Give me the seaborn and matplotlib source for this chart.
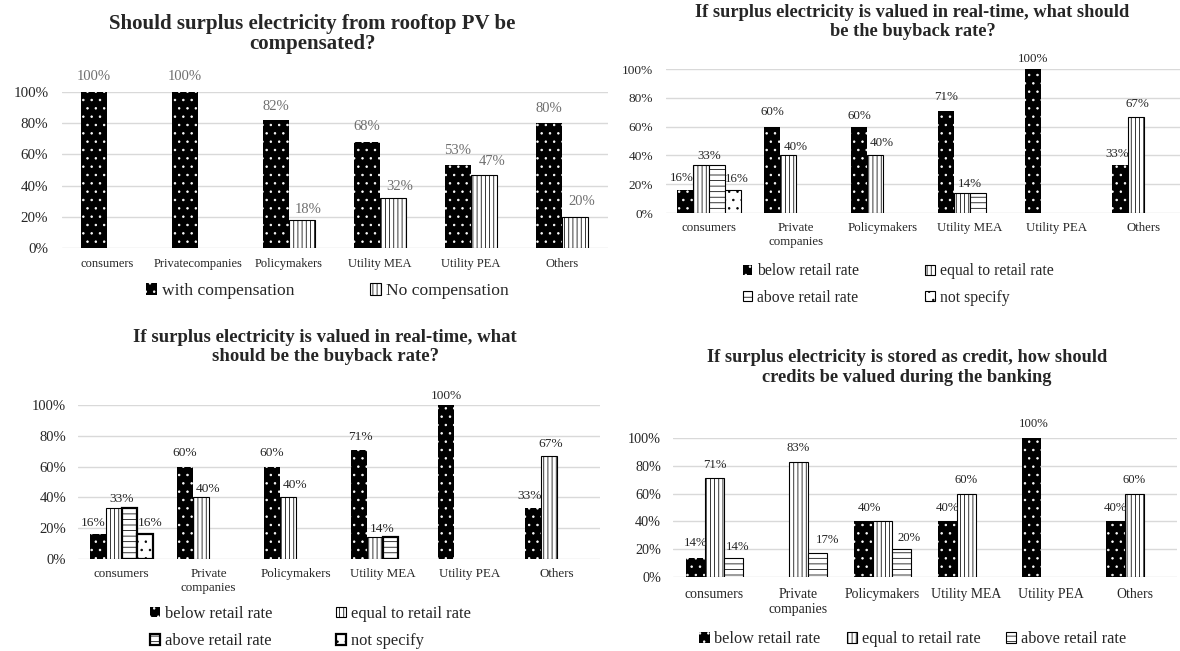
import numpy as np
import pandas as pd
import matplotlib
matplotlib.use("Agg")
import matplotlib.pyplot as plt
import seaborn as sns

# ---- survey results (percent of respondents) ----
groups_a = ["consumers", "Privatecompanies", "Policymakers", "Utility MEA", "Utility PEA", "Others"]
groups = ["consumers", "Private\ncompanies", "Policymakers", "Utility MEA", "Utility PEA", "Others"]

comp_series = ["with compensation", "No compensation"]
with_compensation = [100, 100, 82, 68, 53, 80]
no_compensation = [0, 0, 18, 32, 47, 20]

rate_series = ["below retail rate", "equal to retail rate", "above retail rate", "not specify"]
rt_below = [16, 60, 60, 71, 100, 33]
rt_equal = [33, 40, 40, 14, 0, 67]
rt_above = [33, 0, 0, 14, 0, 0]
rt_not_specified = [16, 0, 0, 0, 0, 0]

credit_series = ["below retail rate", "equal to retail rate", "above retail rate"]
cr_below = [14, 0, 40, 40, 100, 40]
cr_equal = [71, 83, 40, 60, 0, 60]
cr_above = [14, 17, 20, 0, 0, 0]

y_ticks = [0, 20, 40, 60, 80, 100]
y_tick_labels = ["0%", "20%", "40%", "60%", "80%", "100%"]

title_a = "Should surplus electricity from rooftop PV be\ncompensated?"
title_b = "If surplus electricity is valued in real-time, what should\nbe the buyback rate?"
title_c = "If surplus electricity is valued in real-time, what\nshould be the buyback rate?"
title_d = "If surplus electricity is stored as credit, how should\ncredits be valued during the banking"

# value labels: (series index, group index, sideways shift in bar widths, lift in px)
labels_a = [(0, 0, 0, 15), (0, 1, 0, 15), (0, 2, 0, 14), (1, 2, 0.25, 10),
            (0, 3, 0, 15), (1, 3, 0.25, 12), (0, 4, 0, 15), (1, 4, 0.3, 13),
            (0, 5, 0, 15), (1, 5, 0.25, 15)]
labels_b = [(0, 0, -0.2, 12), (1, 0, 0.5, 9.5), (3, 0, 0.25, 11),
            (0, 1, 0, 14.5), (1, 1, 0.5, 8.5), (0, 2, 0, 10.5), (1, 2, 0.4, 12),
            (0, 3, 0, 14), (1, 3, 0.5, 9), (0, 4, 0, 10),
            (0, 5, -0.2, 11.5), (1, 5, 0.1, 12.5)]
labels_c = [(0, 0, -0.3, 11), (1, 0, 0.5, 9), (3, 0, 0.3, 11),
            (0, 1, 0, 14), (1, 1, 0.5, 8), (0, 2, 0, 14), (1, 2, 0.5, 12),
            (0, 3, 0.1, 13), (1, 3, 0.5, 8), (0, 4, 0, 9),
            (0, 5, -0.2, 12), (1, 5, 0.1, 12)]
labels_d = [(0, 0, 0, 14.5), (1, 0, 0, 13), (2, 0, 0.2, 10.5),
            (1, 1, 0, 14), (2, 1, 0.5, 13), (0, 2, 0.3, 13), (2, 2, 0.4, 11),
            (0, 3, 0, 13), (1, 3, 0, 14), (0, 4, 0.1, 14),
            (0, 5, 0, 13), (1, 5, 0, 14)]

sns.set_style("white")
plt.rcParams["font.family"] = ["Liberation Serif", "DejaVu Serif"]
plt.rcParams["hatch.linewidth"] = 0.55

W, H = 1180, 651
fig = plt.figure(figsize=(W / 100, H / 100), dpi=100)
fig.patch.set_facecolor("white")


def frame(left, right, top, bottom):
    return fig.add_axes([left / W, 1 - bottom / H, (right - left) / W, (bottom - top) / H])


def fill_style(kind, lw=0.8):
    if kind == "black":
        return dict(facecolor="black", edgecolor="white", hatch="..", linewidth=0)
    if kind == "vert":
        return dict(facecolor="white", edgecolor="black", hatch="||||", linewidth=lw)
    if kind == "horiz":
        return dict(facecolor="white", edgecolor="black", hatch="---", linewidth=lw)
    return dict(facecolor="white", edgecolor="black", hatch="..", linewidth=lw)


def chart(ax, cats, names, series_vals, fills, width, label_spec, label_color,
          label_fs, tick_fs, cat_fs, ypad, xpad):
    df = pd.DataFrame({
        "group": np.tile(cats, len(names)),
        "series": np.repeat(names, len(cats)),
        "share": np.concatenate([np.asarray(v, float) for v in series_vals]),
    })
    sns.barplot(data=df, x="group", y="share", hue="series", order=cats,
                hue_order=names, palette=["white"] * len(names), saturation=1,
                width=width, errorbar=None, legend=False, ax=ax)
    for cont, st in zip(ax.containers, fills):
        for p in cont:
            p.set(**st)
            if p.get_height() == 0:
                p.set_visible(False)
    ax.set_ylim(0, 100)
    ax.set_yticks(y_ticks)
    ax.set_yticklabels(y_tick_labels)
    ax.set_xlabel("")
    ax.set_ylabel("")
    ax.yaxis.grid(True, color="#d9d9d9", linewidth=1)
    ax.set_axisbelow(True)
    for s in ax.spines.values():
        s.set_visible(False)
    ax.tick_params(axis="y", length=0, pad=ypad, labelsize=tick_fs, labelcolor="#262626")
    ax.tick_params(axis="x", length=0, pad=xpad, labelsize=cat_fs, labelcolor="#262626")
    for t in ax.get_xticklabels():
        t.set_linespacing(1.2)
    for si, ci, dx, dy in label_spec:
        p = ax.containers[si][ci]
        x = p.get_x() + p.get_width() * (0.5 + dx)
        ax.annotate(f"{series_vals[si][ci]:.0f}%", (x, p.get_height()),
                    xytext=(0, dy * 0.72), textcoords="offset points",
                    ha="center", va="center", fontsize=label_fs,
                    color=label_color, annotation_clip=False)
    return ax


def legend(ax, order, names, cx, cy, fs, colsp, rowsp=0.65, hl=0.62):
    # a drawn (non-empty) bar of each series serves as its legend key
    handles = [next(p for p in ax.containers[i] if p.get_visible()) for i in order]
    labels = [names[i] for i in order]
    ncol = 2 if len(order) in (2, 4) else len(order)
    ax.legend(handles, labels, loc="center", bbox_to_anchor=(cx / W, 1 - cy / H),
              bbox_transform=fig.transFigure, ncol=ncol, frameon=False,
              fontsize=fs, handlelength=hl, handleheight=hl, handletextpad=0.3,
              columnspacing=colsp, labelspacing=rowsp, borderpad=0,
              borderaxespad=0)


# top left: compensation or not
ax_a = frame(61.5, 607.5, 92, 248)
chart(ax_a, groups_a, comp_series, [with_compensation, no_compensation],
      [fill_style("black"), fill_style("vert")], 0.57, labels_a, "#6f6f6f",
      10.5, 10.8, 9, 9.5, 7)
legend(ax_a, [0, 1], comp_series, 327.5, 291, 12.6, 4.3)
fig.text(312 / W, 1 - 34 / H, title_a, ha="center", va="center", fontsize=15,
         fontweight="bold", linespacing=1.0)

# top right: real-time buyback rate
ax_b = frame(665.5, 1187.5, 69, 213)
chart(ax_b, groups, rate_series, [rt_below, rt_equal, rt_above, rt_not_specified],
      [fill_style("black"), fill_style("vert"), fill_style("horiz"), fill_style("dots")],
      0.736, labels_b, "#262626", 9.4, 9.6, 9.3, 9, 6.5)
legend(ax_b, [0, 2, 1, 3], rate_series, 898, 284.5, 11.3, 4.2)
fig.text(912.5 / W, 1 - 22 / H, title_b, ha="center", va="center", fontsize=13.2,
         fontweight="bold", linespacing=1.13)

# bottom left: real-time buyback rate
ax_c = frame(78, 600, 405, 559)
chart(ax_c, groups, rate_series, [rt_below, rt_equal, rt_above, rt_not_specified],
      [fill_style("black"), fill_style("vert"), fill_style("horiz", 1.6),
       fill_style("dots", 1.6)],
      0.72, labels_c, "#262626", 9.6, 10.5, 9.4, 8.6, 6.5)
legend(ax_c, [0, 2, 1, 3], rate_series, 310.5, 627.5, 11.9, 3.8, rowsp=0.7)
fig.text(325 / W, 1 - 347 / H, title_c, ha="center", va="center", fontsize=13.5,
         fontweight="bold", linespacing=1.1)

# bottom right: banked credit valuation
ax_d = frame(672.5, 1176.5, 438, 577)
chart(ax_d, groups, credit_series, [cr_below, cr_equal, cr_above],
      [fill_style("black"), fill_style("vert"), fill_style("horiz")],
      0.68, labels_d, "#262626", 9.2, 10.2, 9.9, 8.3, 8)
legend(ax_d, [0, 1, 2], credit_series, 913, 639, 11.7, 1.6)
fig.text(907 / W, 1 - 367.5 / H, title_d, ha="center", va="center", fontsize=13.2,
         fontweight="bold", linespacing=1.19)

fig.savefig("out.png", dpi=100, facecolor="white")
